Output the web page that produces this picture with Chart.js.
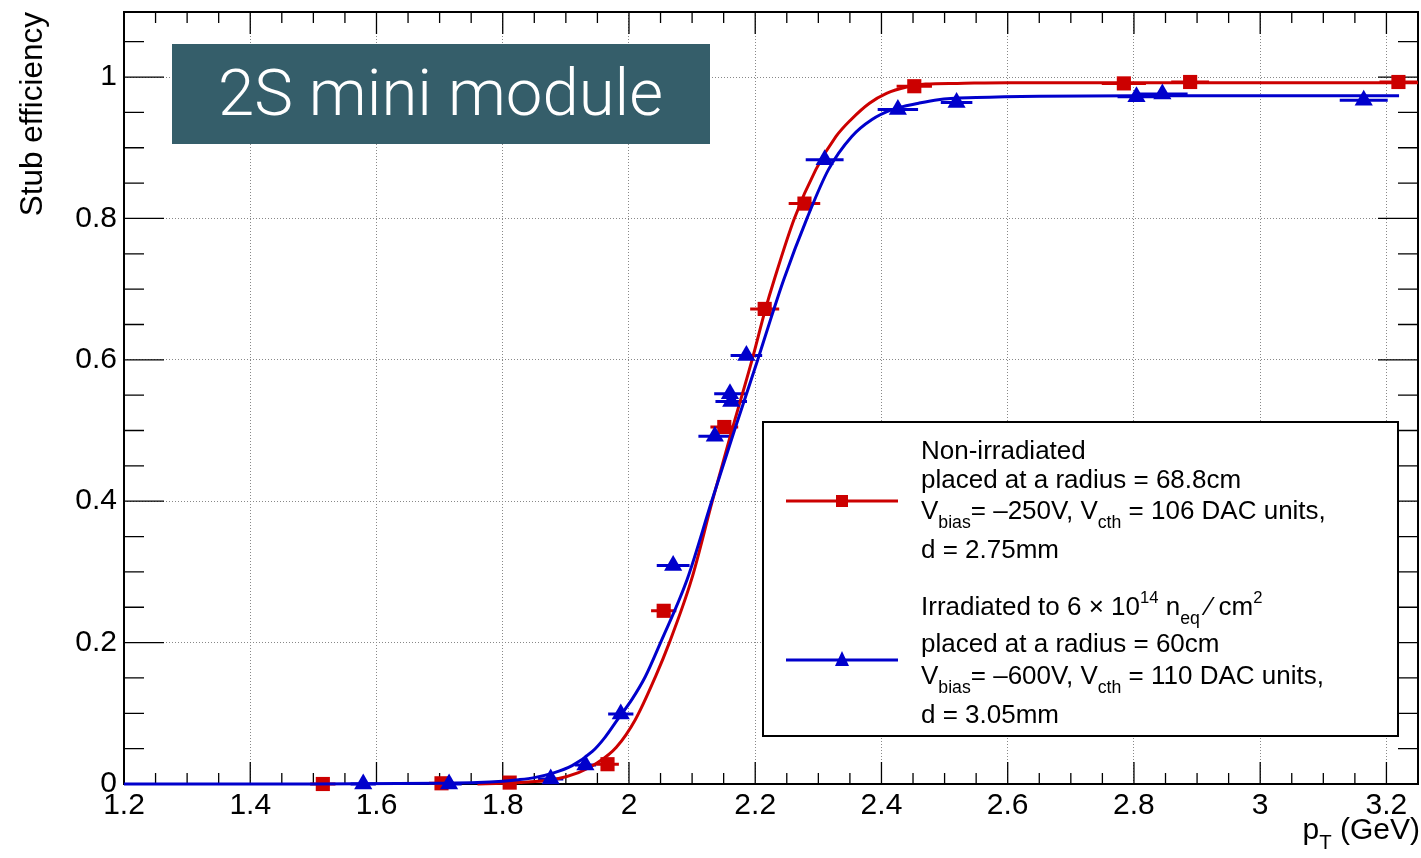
<!DOCTYPE html>
<html>
<head>
<meta charset="utf-8">
<script src="https://cdn.jsdelivr.net/npm/chart.js@4.4.1/dist/chart.umd.min.js"></script>
<style>
  html, body { margin: 0; padding: 0; background: #fff; }
  #wrap { width: 1421px; height: 858px; }
</style>
</head>
<body>
<div id="wrap"><canvas id="eff"></canvas></div>
<script>
// tick labels
const xTicks = [1.2, 1.4, 1.6, 1.8, 2.0, 2.2, 2.4, 2.6, 2.8, 3.0, 3.2];
const yTicks = [0, 0.2, 0.4, 0.6, 0.8, 1.0];

// non-irradiated module (red squares)
const redX    = [1.515, 1.703, 1.811, 1.966, 2.055, 2.151, 2.215, 2.278, 2.452, 2.784, 2.889, 3.219];
const redY    = [0.000, 0.001, 0.002, 0.028, 0.245, 0.505, 0.672, 0.821, 0.987, 0.991, 0.993, 0.993];
const redXErr = [0.020, 0.020, 0.020, 0.018, 0.020, 0.022, 0.023, 0.025, 0.028, 0.035, 0.030, 0.030];

// irradiated module (blue triangles)
const blueX    = [1.579, 1.715, 1.876, 1.931, 1.987, 2.070, 2.136, 2.160, 2.162, 2.186, 2.310, 2.426, 2.519, 2.804, 2.845, 3.164];
const blueY    = [0.000, 0.000, 0.007, 0.027, 0.099, 0.309, 0.492, 0.552, 0.541, 0.606, 0.883, 0.954, 0.964, 0.972, 0.976, 0.967];
const blueXErr = [0.020, 0.020, 0.020, 0.017, 0.020, 0.026, 0.026, 0.025, 0.025, 0.025, 0.030, 0.032, 0.025, 0.030, 0.040, 0.038];

// fitted curves
const redFitX = [1.76, 1.80, 1.84, 1.88, 1.92, 1.95, 1.98, 2.01, 2.042, 2.064, 2.099, 2.132, 2.163, 2.195, 2.216, 2.230, 2.262, 2.296, 2.328, 2.352, 2.381, 2.408, 2.44, 2.47, 2.52, 2.6, 2.8, 3.0, 3.25];
const redFitY = [0.000, 0.001, 0.003, 0.006, 0.016, 0.030, 0.052, 0.091, 0.152, 0.200, 0.289, 0.400, 0.500, 0.600, 0.671, 0.713, 0.800, 0.869, 0.916, 0.940, 0.963, 0.977, 0.986, 0.990, 0.991, 0.992, 0.992, 0.992, 0.992];
const blueFitX = [1.20, 1.50, 1.70, 1.76, 1.80, 1.825, 1.85, 1.878, 1.91, 1.942, 1.962, 1.981, 2.005, 2.026, 2.050, 2.092, 2.131, 2.167, 2.204, 2.225, 2.245, 2.282, 2.316, 2.353, 2.385, 2.417, 2.459, 2.49, 2.55, 2.65, 2.8, 3.0, 3.22];
const blueFitY = [0.000, 0.000, 0.001, 0.002, 0.004, 0.006, 0.009, 0.015, 0.026, 0.046, 0.066, 0.090, 0.120, 0.152, 0.200, 0.289, 0.400, 0.500, 0.600, 0.659, 0.713, 0.800, 0.869, 0.916, 0.940, 0.954, 0.963, 0.968, 0.971, 0.973, 0.9735, 0.9735, 0.9735];

const RED = '#cc0000';
const BLUE = '#0000cc';
const FONT = '"Liberation Sans", Arial, sans-serif';

const pts = (xs, ys) => xs.map((v, i) => ({x: v, y: ys[i]}));

// frame, inside tick marks (ROOT style) and x error bars
const frameTicks = {
  id: 'frameTicks',
  beforeDatasetsDraw(chart) {
    const {ctx, chartArea: a, scales: {x, y}} = chart;
    ctx.save();
    ctx.strokeStyle = '#000';
    ctx.lineWidth = 1.3;
    ctx.beginPath();
    for (let i = 0; i <= 41; i++) {
      const v = 1.2 + i * 0.05;
      const px = x.getPixelForValue(v);
      const len = (i % 4 === 0) ? 22 : 11;
      ctx.moveTo(px, a.bottom); ctx.lineTo(px, a.bottom - len);
      ctx.moveTo(px, a.top); ctx.lineTo(px, a.top + len);
    }
    for (let i = 0; i <= 21; i++) {
      const py = y.getPixelForValue(i * 0.05);
      const len = (i % 4 === 0) ? 40 : 20;
      ctx.moveTo(a.left, py); ctx.lineTo(a.left + len, py);
      ctx.moveTo(a.right, py); ctx.lineTo(a.right - len, py);
    }
    ctx.stroke();
    ctx.lineWidth = 2;
    ctx.strokeRect(a.left, a.top, a.right - a.left, a.bottom - a.top);

    // horizontal error bars
    ctx.lineWidth = 3;
    const bars = (xs, ys, es, col) => {
      ctx.strokeStyle = col;
      ctx.beginPath();
      xs.forEach((v, i) => {
        const py = y.getPixelForValue(ys[i]);
        ctx.moveTo(x.getPixelForValue(v - es[i]), py);
        ctx.lineTo(x.getPixelForValue(v + es[i]), py);
      });
      ctx.stroke();
    };
    bars(redX, redY, redXErr, RED);
    bars(blueX, blueY, blueXErr, BLUE);
    ctx.restore();
  }
};

function drawRuns(ctx, x, y, runs, size) {
  for (const [t, m] of runs) {
    let fs = size, dy = 0;
    if (m === 'sub') { fs = size * 0.68; dy = size * 0.42; }
    if (m === 'sup') { fs = size * 0.64; dy = -size * 0.38; }
    ctx.font = fs + 'px ' + FONT;
    ctx.fillText(t, x, y + dy);
    x += ctx.measureText(t).width;
  }
  return x;
}

// legend box, title box and x axis title
const decorations = {
  id: 'decorations',
  afterDatasetsDraw(chart) {
    const {ctx} = chart;
    ctx.save();

    // legend
    ctx.fillStyle = '#fff';
    ctx.fillRect(763, 422, 635, 314);
    ctx.strokeStyle = '#000';
    ctx.lineWidth = 2;
    ctx.strokeRect(763, 422, 635, 314);

    ctx.lineWidth = 3;
    ctx.strokeStyle = RED;
    ctx.beginPath(); ctx.moveTo(786, 501); ctx.lineTo(898, 501); ctx.stroke();
    ctx.fillStyle = RED;
    ctx.fillRect(836, 495, 12, 12);
    ctx.strokeStyle = BLUE;
    ctx.beginPath(); ctx.moveTo(786, 660); ctx.lineTo(898, 660); ctx.stroke();
    ctx.fillStyle = BLUE;
    ctx.beginPath(); ctx.moveTo(842, 651); ctx.lineTo(849, 666); ctx.lineTo(835, 666); ctx.closePath(); ctx.fill();

    ctx.fillStyle = '#000';
    ctx.textBaseline = 'middle';
    ctx.textAlign = 'left';
    const lx = 921, fs = 26;
    drawRuns(ctx, lx, 452, [['Non-irradiated', '']], fs);
    drawRuns(ctx, lx, 481, [['placed at a radius = 68.8cm', '']], fs);
    drawRuns(ctx, lx, 512, [['V', ''], ['bias', 'sub'], ['= \u2013250V, V', ''], ['cth', 'sub'], [' = 106 DAC units,', '']], fs);
    drawRuns(ctx, lx, 551, [['d = 2.75mm', '']], fs);
    drawRuns(ctx, lx, 608, [['Irradiated to 6 \u00d7 10', ''], ['14', 'sup'], [' n', ''], ['eq', 'sub'], [' \u2044 cm', ''], ['2', 'sup']], fs);
    drawRuns(ctx, lx, 645, [['placed at a radius = 60cm', '']], fs);
    drawRuns(ctx, lx, 677, [['V', ''], ['bias', 'sub'], ['= \u2013600V, V', ''], ['cth', 'sub'], [' = 110 DAC units,', '']], fs);
    drawRuns(ctx, lx, 716, [['d = 3.05mm', '']], fs);

    // title box
    ctx.fillStyle = '#355e6a';
    ctx.fillRect(172, 44, 538, 100);
    ctx.fillStyle = '#fff';
    ctx.font = '300 62px Roboto, ' + FONT;
    const tw = ctx.measureText('2S mini module').width;
    const ts = 62 * 445 / tw;
    ctx.font = '300 ' + ts + 'px Roboto, ' + FONT;
    ctx.fillText('2S mini module', 218, 99);

    // x axis title: p_T (GeV), right aligned
    ctx.fillStyle = '#000';
    const xfs = 30;
    ctx.font = xfs + 'px ' + FONT;
    const w1 = ctx.measureText('p').width;
    const w3 = ctx.measureText(' (GeV)').width;
    ctx.font = (xfs * 0.68) + 'px ' + FONT;
    const w2 = ctx.measureText('T').width;
    drawRuns(ctx, 1420 - (w1 + w2 + w3), 831, [['p', ''], ['T', 'sub'], [' (GeV)', '']], xfs);

    ctx.restore();
  }
};

new Chart(document.getElementById('eff'), {
  type: 'scatter',
  data: {
    datasets: [
      {
        label: 'Irradiated fit',
        type: 'line',
        data: pts(blueFitX, blueFitY),
        borderColor: BLUE,
        borderWidth: 3,
        pointRadius: 0,
        fill: false,
        cubicInterpolationMode: 'monotone'
      },
      {
        label: 'Irradiated',
        data: pts(blueX, blueY),
        pointStyle: 'triangle',
        pointRadius: 10.5,
        backgroundColor: BLUE,
        borderWidth: 0
      },
      {
        label: 'Non-irradiated fit',
        type: 'line',
        data: pts(redFitX, redFitY),
        borderColor: RED,
        borderWidth: 3,
        pointRadius: 0,
        fill: false,
        cubicInterpolationMode: 'monotone'
      },
      {
        label: 'Non-irradiated',
        data: pts(redX, redY),
        pointStyle: 'rect',
        pointRadius: 10,
        backgroundColor: RED,
        borderWidth: 0
      }
    ]
  },
  options: {
    responsive: true,
    maintainAspectRatio: false,
    animation: false,
    clip: false,
    layout: { autoPadding: false, padding: { top: 12, right: 3, left: 0, bottom: 0 } },
    plugins: {
      legend: { display: false },
      tooltip: { enabled: false }
    },
    scales: {
      x: {
        type: 'linear',
        min: 1.2,
        max: 3.25,
        afterBuildTicks: (s) => { s.ticks = xTicks.map(v => ({value: v})); },
        afterFit: (s) => { s.height = 74; s.paddingLeft = 0; s.paddingRight = 0; },
        ticks: {
          color: '#000',
          font: { family: FONT, size: 30 },
          padding: 4,
          maxRotation: 0,
          autoSkip: false,
          callback: (v) => String(Math.round(v * 10) / 10)
        },
        grid: { color: '#888', lineWidth: 1, drawTicks: false },
        border: { display: false, dash: [1, 2] }
      },
      y: {
        type: 'linear',
        min: 0,
        max: 1.092,
        afterBuildTicks: (s) => { s.ticks = yTicks.map(v => ({value: v})); },
        afterFit: (s) => { s.width = 124; s.paddingTop = 0; s.paddingBottom = 0; },
        ticks: {
          color: '#000',
          font: { family: FONT, size: 30 },
          padding: 7,
          callback: (v) => String(Math.round(v * 10) / 10)
        },
        grid: { color: '#888', lineWidth: 1, drawTicks: false },
        border: { display: false, dash: [1, 2] },
        title: {
          display: true,
          text: 'Stub efficiency',
          align: 'end',
          color: '#000',
          font: { family: FONT, size: 31.5 },
          padding: { top: 14, bottom: 0 }
        }
      }
    }
  },
  plugins: [frameTicks, decorations]
});
</script>
</body>
</html>
